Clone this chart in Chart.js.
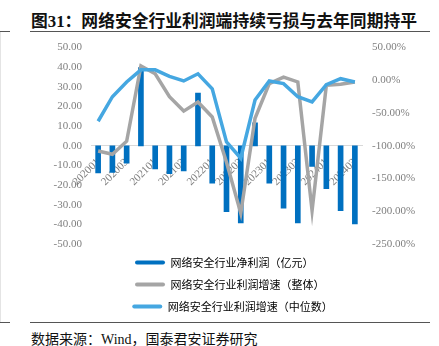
<!DOCTYPE html>
<html>
<head>
<meta charset="utf-8">
<script src="https://cdn.jsdelivr.net/npm/chart.js@4/dist/chart.umd.min.js"></script>
<style>
    body { margin: 0; background: #fff; width: 439px; height: 346px; position: relative; overflow: hidden; }
    .title { position: absolute; left: 31px; top: 8px; font: bold 16.8px "Liberation Serif", "Noto Sans CJK SC"; color: #111; white-space: nowrap; }
    .rule { position: absolute; height: 1px; background: #555; }
    .src { position: absolute; left: 31px; top: 328px; font: 14px "Liberation Serif", "Noto Sans CJK SC"; color: #111; white-space: nowrap; }
    #wrap { position: absolute; left: 0; top: 31px; width: 439px; height: 289px; }
</style>
</head>
<body>
<div class="title">图31：网络安全行业利润端持续亏损与去年同期持平</div>
<div class="rule" style="left:30px; top:31px; width:400px;"></div>
<div class="rule" style="left:0; top:31px; width:10px;"></div>
<div class="rule" style="left:30px; top:322px; width:400px;"></div>
<div class="rule" style="left:0; top:322px; width:10px;"></div>
<div style="position:absolute; left:0; top:32px; width:1px; height:290px; background:#e4e4e4;"></div>
<div id="wrap"><canvas id="chart1"></canvas></div>
<div class="src">数据来源：Wind，国泰君安证券研究</div>

<script>
var quarters = ["202001", "202002", "202003", "202004", "202101", "202102", "202103", "202104",
    "202201", "202202", "202203", "202204", "202301", "202302", "202303", "202304",
    "202401", "202402", "202403"];
var netProfit = [-13.8, -13.6, -8.8, 39.8, -11.8, -14.2, -12.8, 26.9, -19.0, -33.5, -39.3, 11.7,
    -19.0, -31.7, -39.3, -10.5, -21.8, -33.0, -39.8];
var growthTotal = [-108, -113, -93, 22, 10, -25, -47, -33, -56, -125, -203, -58,
    -5, 5, -2.5, -199, -7.6, -6, -2.5];
var growthMedian = [-62.5, -25, -2.5, 16, 16, 6, -1, 10, -13, -94, -119, -30,
    -1, -5, -25, -33, -6.5, 2.5, -2.5];
var seriesNames = ["网络安全行业净利润（亿元）", "网络安全行业利润增速（整体）", "网络安全行业利润增速（中位数）"];
var seriesColors = ['rgb(0, 112, 192)', 'rgb(165, 165, 165)', 'rgb(69, 167, 225)'];

var tickFont = { family: 'Liberation Serif', size: 11 };

// pad legend texts to the same width so the centred rows line up on the left
function padName(s) {
    while (s.length < 15) s += '\u3000';
    return s;
}

// nudge the legend block so its rows start where the reference has them
var legendShift = {
    id: 'legendShift',
    afterLayout: function (chart) {
        var lg = chart.legend;
        lg.left += 6; lg.right += 6;
        lg.top += 2; lg.bottom += 2;
    }
};

var ctx1 = document.getElementById('chart1').getContext('2d');
var myChart1 = new Chart(ctx1, {
    type: 'bar',
    data: {
        labels: quarters,
        datasets: [{
            label: seriesNames[0],
            data: netProfit,
            backgroundColor: seriesColors[0],
            barThickness: 5,
            yAxisID: 'y',
            order: 3
        }, {
            type: 'line',
            label: seriesNames[1],
            data: growthTotal,
            borderColor: seriesColors[1],
            borderWidth: 3.5,
            pointRadius: 0,
            tension: 0,
            yAxisID: 'y1',
            order: 2
        }, {
            type: 'line',
            label: seriesNames[2],
            data: growthMedian,
            borderColor: seriesColors[2],
            borderWidth: 3.5,
            pointRadius: 0,
            tension: 0,
            yAxisID: 'y1',
            order: 1
        }]
    },
    plugins: [legendShift],
    options: {
        responsive: true,
        maintainAspectRatio: false,
        animation: false,
        layout: { padding: 0 },
        plugins: {
            tooltip: { enabled: false },
            legend: {
                position: 'bottom',
                fullSize: false,
                labels: {
                    boxWidth: 30,
                    boxHeight: 4,
                    padding: 11,
                    color: '#595959',
                    font: { family: 'Noto Sans CJK SC', size: 11 },
                    generateLabels: function (chart) {
                        return chart.data.datasets.map(function (ds, i) {
                            return {
                                text: padName(seriesNames[i]),
                                fillStyle: seriesColors[i],
                                strokeStyle: seriesColors[i],
                                lineWidth: 0,
                                borderRadius: 2,
                                datasetIndex: i,
                                hidden: false
                            };
                        });
                    }
                }
            }
        },
        scales: {
            x: {
                position: { y: 0 },
                offset: true,
                grid: { display: false },
                border: { display: true, color: '#d9d9d9', width: 1 },
                ticks: {
                    autoSkip: false,
                    minRotation: 45,
                    maxRotation: 45,
                    padding: 2,
                    color: '#7f7f7f',
                    font: tickFont,
                    callback: function (v, i) { return i % 2 === 0 ? quarters[i] : ''; }
                }
            },
            y: {
                position: 'left',
                min: -50,
                max: 50,
                grid: { display: false, drawTicks: false },
                border: { display: false },
                afterFit: function (s) { s.width = 91; },
                ticks: {
                    stepSize: 10,
                    autoSkip: false,
                    padding: 9,
                    color: '#7f7f7f',
                    font: tickFont,
                    callback: function (v) { return v.toFixed(2); }
                }
            },
            y1: {
                position: 'right',
                min: -250,
                max: 50,
                grid: { display: false, drawTicks: false },
                border: { display: false },
                afterFit: function (s) { s.width = 77; },
                ticks: {
                    stepSize: 50,
                    autoSkip: false,
                    padding: 10,
                    color: '#7f7f7f',
                    font: tickFont,
                    callback: function (v) { return v.toFixed(2) + '%'; }
                }
            }
        }
    }
});
</script>
</body>
</html>
